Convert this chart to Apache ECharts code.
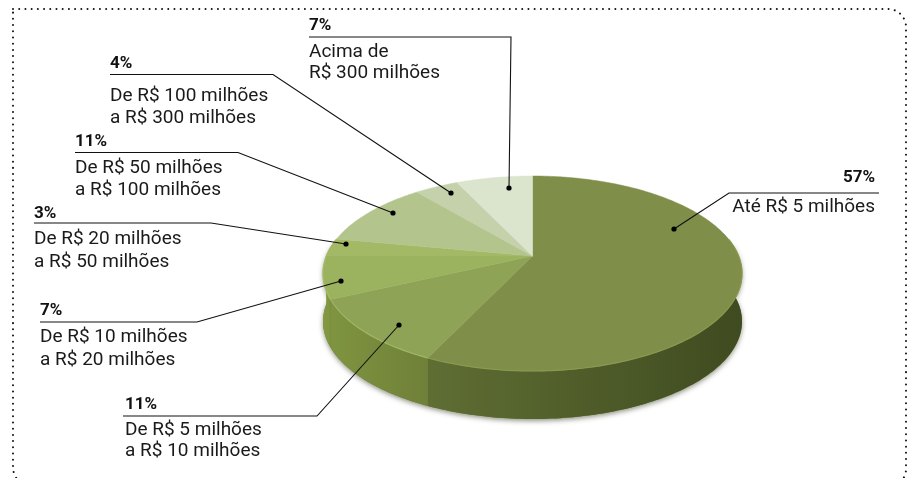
<!DOCTYPE html>
<html>
<head>
<meta charset="utf-8">
<style>
html,body{margin:0;padding:0;background:#fff;overflow:hidden}
#chart{width:912px;height:478px}
</style>
<script src="https://cdn.jsdelivr.net/npm/echarts@6/dist/echarts.min.js"></script>
</head>
<body>
<div id="chart"></div>
<script>
// faixas, na ordem da pizza, a partir das 12h em sentido horario
const categories = ['Até R$ 5 milhões', 'De R$ 5 milhões\na R$ 10 milhões', 'De R$ 10 milhões\na R$ 20 milhões', 'De R$ 20 milhões\na R$ 50 milhões', 'De R$ 50 milhões\na R$ 100 milhões', 'De R$ 100 milhões\na R$ 300 milhões', 'Acima de\nR$ 300 milhões'];
const shares = [57, 11, 7, 3, 11, 4, 7];

const topColors = ['#7f8e49', '#8ea355', '#9bb25e', '#a4b966', '#b3c58d', '#c4d1aa', '#dbe4cd'];
const rimColors = ['#89994f', '#a0b565', '#a6bb69', '#a4b966', '#b3c58d', '#c4d1aa', '#dbe4cd'];
const wallColors = [['#5f6e33', '#3f4b20'], ['#7f9440', '#6f8038'], ['#85993f', '#7f9440'], ['#85993f', '#85993f'], ['#85993f', '#85993f'], ['#85993f', '#85993f'], ['#85993f', '#85993f']];

// geometria da pizza: a pizza esta em perspectiva, o centro fica acima do meio da elipse
const cx = 532.5, depth = 48;
const tilt = 0.1795, widthK = 206.1, apexY = 256, heightK = 48.4;
const wallEdge = Math.acos(tilt) * 180 / Math.PI; // onde a parede lateral aparece

// posicao dos rotulos: x/y da linha, fim da linha, ponto na fatia
const labelPos = [
	{x0: 879, x1: 729, y: 193, px: 674, py: 229, align: 'right', tx: 875, pctY: 178, lineY: [207]},
	{x0: 123, x1: 317, y: 416, px: 399, py: 325, align: 'left', tx: 125, pctY: 405, lineY: [430, 451]},
	{x0: 40, x1: 197, y: 322, px: 341, py: 281, align: 'left', tx: 40, pctY: 311, lineY: [337, 360]},
	{x0: 34, x1: 211, y: 223, px: 346, py: 244, align: 'left', tx: 34, pctY: 214, lineY: [239, 262]},
	{x0: 75, x1: 238, y: 152.5, px: 393, py: 213, align: 'left', tx: 75, pctY: 142, lineY: [168, 190]},
	{x0: 110, x1: 273, y: 74.5, px: 451, py: 193, align: 'left', tx: 110, pctY: 64, lineY: [96, 118]},
	{x0: 309, x1: 511, y: 37, px: 509, py: 188, align: 'left', tx: 309, pctY: 26, lineY: [52, 73]}
];

const total = shares.reduce(function (a, b) { return a + b; }, 0);
let acc = 0;
const sliceData = shares.map(function (v) {
	let row = [acc / total * 360, (acc + v) / total * 360];
	acc += v;
	return row;
});

function rimPoint(deg, dy) {
	let a = deg * Math.PI / 180;
	let u = Math.sin(a), v = -Math.cos(a);
	let w = 1 - tilt * v;
	return [cx + widthK * u / w, (heightK * v + apexY) / w + dy];
}

function arcPoints(from, to, dy) {
	let pts = [];
	for (let d = from; d < to; d += 1) pts.push(rimPoint(d, dy));
	pts.push(rimPoint(to, dy));
	return pts;
}

function wallPoints(from, to) {
	return arcPoints(from, to, 0).concat(arcPoints(from, to, depth).reverse());
}

// sombra embaixo da parede inteira
function renderShadow() {
	return {
		type: 'polygon',
		shape: {points: wallPoints(wallEdge + 2, 360 - wallEdge - 2)},
		style: {fill: '#6b7a38', shadowBlur: 5, shadowColor: 'rgba(40,45,20,0.5)', shadowOffsetY: 2}
	};
}

function renderWall(params, api) {
	let from = Math.max(api.value(0), wallEdge), to = Math.min(api.value(1), 360 - wallEdge);
	if (from >= to) return {type: 'group', children: []};
	let pts = wallPoints(from, to);
	let c = wallColors[params.dataIndex];
	let xs = pts.map(function (p) { return p[0]; });
	return {
		type: 'polygon',
		shape: {points: pts},
		style: {
			fill: {
				type: 'linear', global: true,
				x: Math.min.apply(null, xs), y: 0, x2: Math.max.apply(null, xs), y2: 0,
				colorStops: [{offset: 0, color: c[0]}, {offset: 1, color: c[1]}]
			}
		}
	};
}

function renderTop(params, api) {
	let color = topColors[params.dataIndex];
	let from = api.value(0), to = api.value(1);
	let children = [{
		type: 'polygon',
		shape: {points: [[cx, apexY]].concat(arcPoints(from, to, 0))},
		style: {fill: color, stroke: color, lineWidth: 0.5}
	}];
	let rimFrom = Math.max(from, wallEdge), rimTo = Math.min(to, 360 - wallEdge);
	if (rimFrom < rimTo) {
		children.push({
			type: 'polyline',
			shape: {points: arcPoints(rimFrom, rimTo, 0)},
			style: {fill: 'none', stroke: rimColors[params.dataIndex], lineWidth: 1.2}
		});
	}
	return {type: 'group', children: children};
}

const baseFont = 'Roboto';
const graphics = [{
	type: 'rect', silent: true, z: 1,
	shape: {x: 13, y: 9, width: 893, height: 478, r: [0, 18, 18, 20]},
	style: {fill: 'none', stroke: '#111', lineWidth: 2, lineDash: [0.01, 6.2], lineCap: 'round'}
}];
labelPos.forEach(function (p, i) {
	graphics.push({
		type: 'polyline', silent: true, z: 5,
		shape: {points: [[p.x0, p.y], [p.x1, p.y], [p.px, p.py]]},
		style: {fill: 'none', stroke: '#111', lineWidth: 1.1}
	});
	graphics.push({
		type: 'circle', silent: true, z: 5,
		shape: {cx: p.px, cy: p.py, r: 2.6},
		style: {fill: '#000'}
	});
	graphics.push({
		type: 'text', silent: true, z: 5, x: p.tx, y: p.pctY,
		style: {text: shares[i] + '%', fill: '#111', font: 'bold 17px ' + baseFont, align: p.align, verticalAlign: 'middle'}
	});
	categories[i].split('\n').forEach(function (line, k) {
		graphics.push({
			type: 'text', silent: true, z: 5, x: p.tx, y: p.lineY[k],
			style: {text: line, fill: '#1a1a1a', font: '19px ' + baseFont, align: p.align, verticalAlign: 'middle'}
		});
	});
});

const myChart = echarts.init(document.getElementById('chart'));
myChart.setOption({
	animation: false,
	backgroundColor: '#fff',
	tooltip: {show: false},
	graphic: graphics,
	series: [
		{type: 'custom', coordinateSystem: 'none', renderItem: renderShadow, data: [[0]], z: 2, silent: true},
		{type: 'custom', coordinateSystem: 'none', renderItem: renderWall, data: sliceData, z: 3, silent: true},
		{type: 'custom', coordinateSystem: 'none', renderItem: renderTop, data: sliceData, z: 4, silent: true}
	]
});
</script>
</body>
</html>
